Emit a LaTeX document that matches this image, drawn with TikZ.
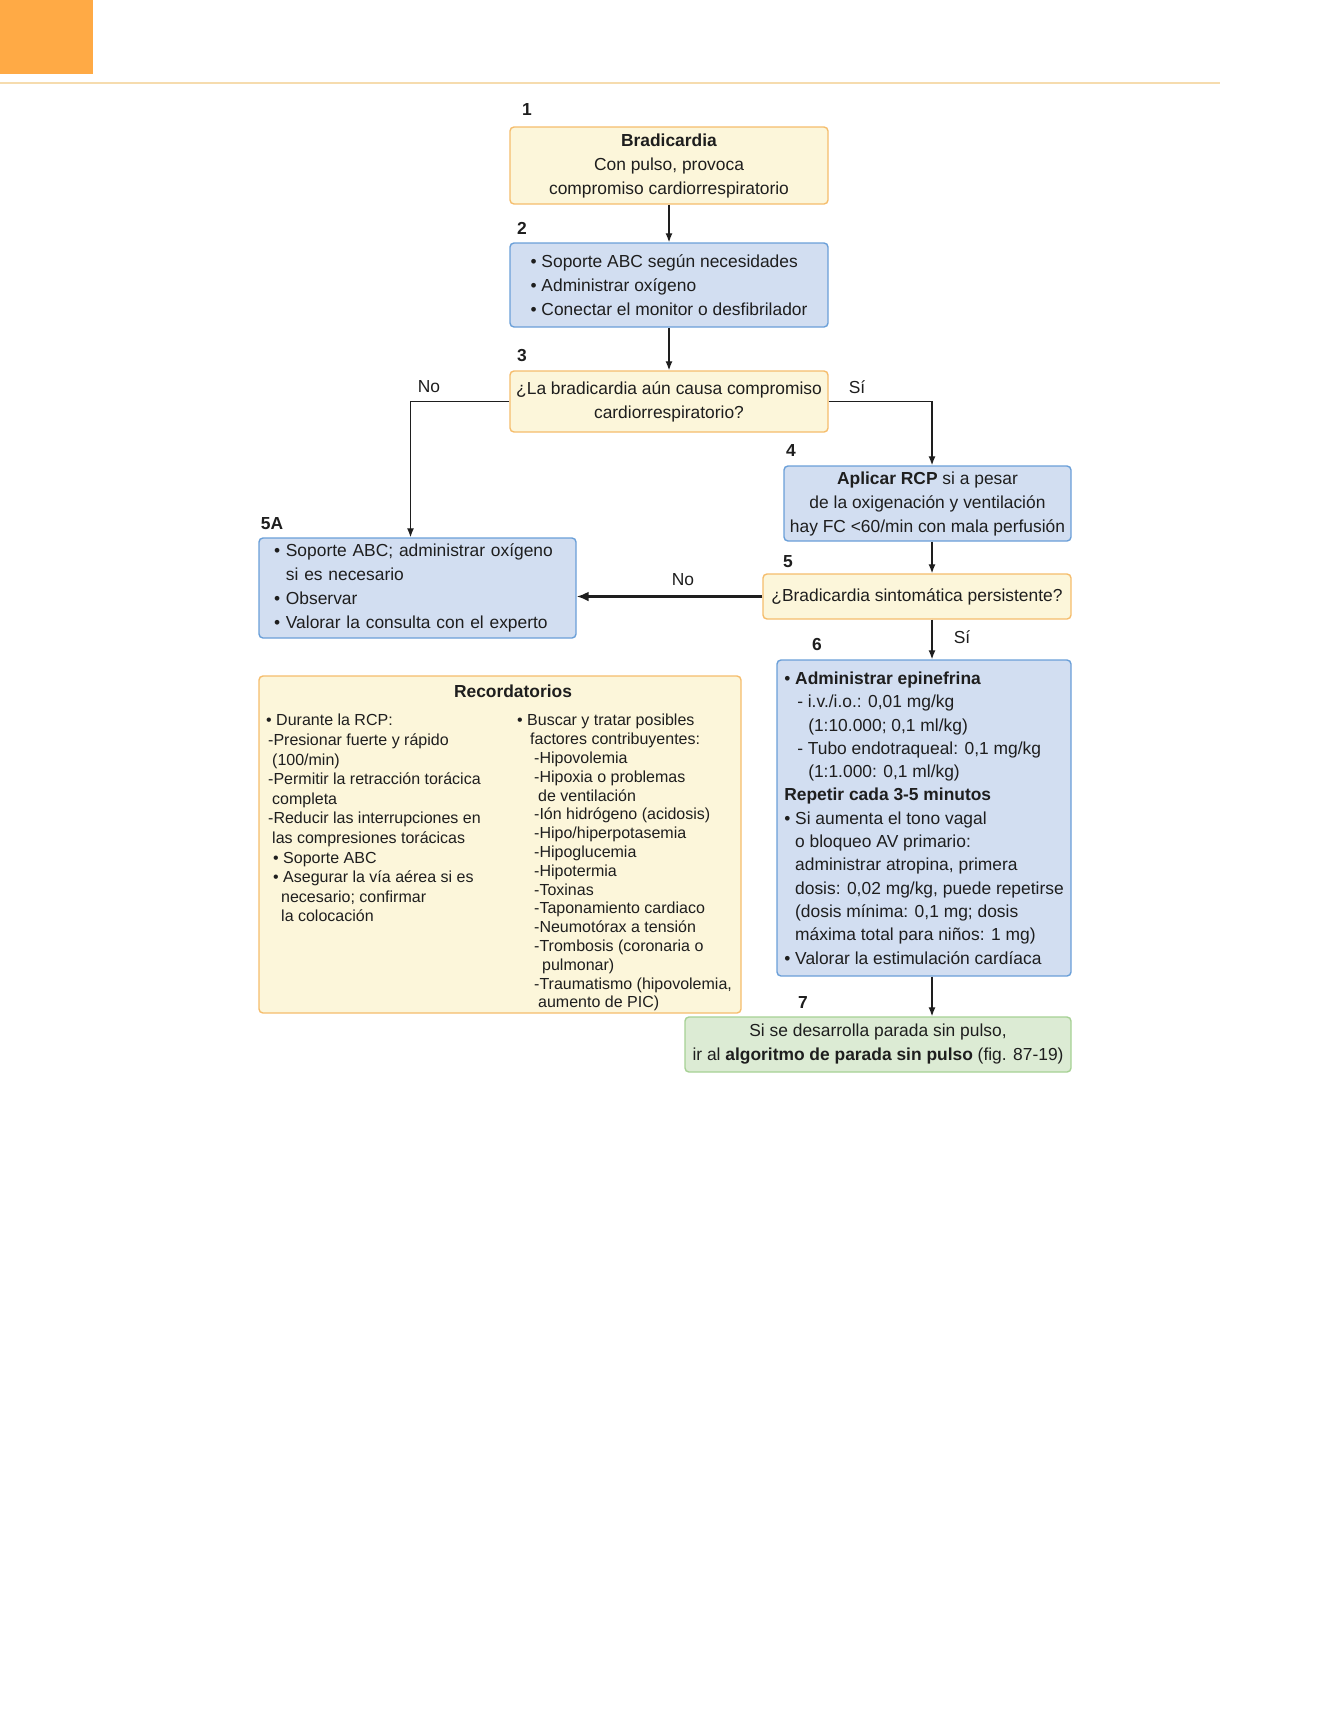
\documentclass[tikz,border=0pt]{standalone}
\usepackage{fontspec}
\setmainfont{Liberation Sans}
\usepackage{tikz}
\usetikzlibrary{arrows.meta,positioning}
\definecolor{TabOrange} {HTML}{FFAA45}
\definecolor{RuleTan}   {HTML}{F6DCAE}
\definecolor{CreamBG}   {HTML}{FCF6DA}
\definecolor{CreamEdge} {HTML}{F5BD6C}
\definecolor{BlueBG}    {HTML}{D2DEF1}
\definecolor{BlueEdge}  {HTML}{6A9FD8}
\definecolor{GreenBG}   {HTML}{DCEBD4}
\definecolor{GreenEdge} {HTML}{A6D194}
\definecolor{InkText}   {HTML}{1E1E1E}
\newcommand\flowfont{\fontsize{17.4}{24}\selectfont}
\newcommand\dosefont{\fontsize{17.4}{23.3}\selectfont}
\newcommand\noteleftfont{\fontsize{16}{19.6}\selectfont}
\newcommand\noterightfont{\fontsize{16}{18.8}\selectfont}
\newcommand\bulletgap{\hphantom{\textbullet\ }}
\tikzset{
  flowbox/.style={rounded corners=4pt,line width=1.4pt,inner sep=0pt,font=\flowfont,text=InkText},
  yellowbox/.style={flowbox,draw=CreamEdge,fill=CreamBG,align=center},
  bluebox/.style={flowbox,draw=BlueEdge,fill=BlueBG,align=left},
  greenbox/.style={flowbox,draw=GreenEdge,fill=GreenBG,align=center},
  stepno/.style={font=\flowfont\bfseries,text=InkText},
  branch/.style={font=\flowfont,text=InkText},
  arr/.style={-{Latex[length=9pt,width=7pt]},line width=1.3pt,draw=InkText},
  bigarr/.style={-{Latex[length=12pt,width=10pt]},line width=2.6pt,draw=InkText},
}

\begin{document}
\begin{tikzpicture}[x=1pt,y=-1pt]
  \useasboundingbox (0,0) rectangle (1338,1711);
  % page header
  \fill[TabOrange] (0,0) rectangle (93,74);
  \draw[RuleTan,line width=2.5pt] (0,83) -- (1220,83);

  % flow boxes
  \node[yellowbox,minimum width=318pt,minimum height=77pt] (b1) at (669,165.5) {%
    \textbf{Bradicardia}\\Con pulso, provoca\\compromiso cardiorrespiratorio};
  \node[bluebox,minimum width=318pt,minimum height=84pt] (s2) at (669,285) {%
    \textbullet\ Soporte ABC según necesidades\\
    \textbullet\ Administrar oxígeno\\
    \textbullet\ Conectar el monitor o desfibrilador};
  \node[yellowbox,minimum width=318pt,minimum height=61pt] (q3) at (669,401.5) {%
    ¿La bradicardia aún causa compromiso\\cardiorrespiratorio?};
  \node[bluebox,align=center,minimum width=287pt,minimum height=75pt] (s4) at (927.5,503.5) {%
    \textbf{Aplicar RCP} si a pesar\\de la oxigenación y ventilación\\hay FC <60/min con mala perfusión};
  \node[yellowbox,minimum width=308pt,minimum height=45pt] (q5) at (917,596.5) {%
    ¿Bradicardia sintomática persistente?};
  \node[bluebox,text width=287pt,inner xsep=15pt,minimum height=100pt] (a5A) at (417.5,588) {%
    \textbullet\ Soporte ABC; administrar oxígeno\\
    \bulletgap si es necesario\\
    \textbullet\ Observar\\
    \textbullet\ Valorar la consulta con el experto};
  \node[bluebox,font=\dosefont,minimum width=294pt,minimum height=316pt] (s6) at (924,818) {%
    \textbullet\ \textbf{Administrar epinefrina}\\
    \hspace*{13pt}- i.v./i.o.: 0,01 mg/kg\\
    \hspace*{24pt}(1:10.000; 0,1 ml/kg)\\
    \hspace*{13pt}- Tubo endotraqueal: 0,1 mg/kg\\
    \hspace*{24pt}(1:1.000: 0,1 ml/kg)\\
    \textbf{Repetir cada 3-5 minutos}\\
    \textbullet\ Si aumenta el tono vagal\\
    \bulletgap o bloqueo AV primario:\\
    \bulletgap administrar atropina, primera\\
    \bulletgap dosis: 0,02 mg/kg, puede repetirse\\
    \bulletgap (dosis mínima: 0,1 mg; dosis\\
    \bulletgap máxima total para niños: 1 mg)\\
    \textbullet\ Valorar la estimulación cardíaca};
  \node[greenbox,minimum width=386pt,minimum height=55pt] (s7) at (878,1044.5) {%
    Si se desarrolla parada sin pulso,\\
    ir al \textbf{algoritmo de parada sin pulso} (fig. 87-19)};

  % reminders panel
  \node[yellowbox,minimum width=482pt,minimum height=337pt] (rec) at (500,844.5) {};
  \node[font=\flowfont\bfseries,text=InkText] (rectitle) at (513,691) {Recordatorios};
  \node[font=\noteleftfont,text=InkText,align=left,inner sep=0pt,anchor=north west] (recleft) at (266,714) {%
    \textbullet\ Durante la RCP:\\
    \hspace*{2pt}-Presionar fuerte y rápido\\
    \hspace*{6pt}(100/min)\\
    \hspace*{2pt}-Permitir la retracción torácica\\
    \hspace*{6pt}completa\\
    \hspace*{2pt}-Reducir las interrupciones en\\
    \hspace*{6pt}las compresiones torácicas\\
    \hspace*{7pt}\textbullet\ Soporte ABC\\
    \hspace*{7pt}\textbullet\ Asegurar la vía aérea si es\\
    \hspace*{15pt}necesario; confirmar\\
    \hspace*{15pt}la colocación};
  \node[font=\noterightfont,text=InkText,align=left,inner sep=0pt,anchor=north west] (recright) at (517,714) {%
    \textbullet\ Buscar y tratar posibles\\
    \hspace*{13pt}factores contribuyentes:\\
    \hspace*{17pt}-Hipovolemia\\
    \hspace*{17pt}-Hipoxia o problemas\\
    \hspace*{21pt}de ventilación\\
    \hspace*{17pt}-Ión hidrógeno (acidosis)\\
    \hspace*{17pt}-Hipo/hiperpotasemia\\
    \hspace*{17pt}-Hipoglucemia\\
    \hspace*{17pt}-Hipotermia\\
    \hspace*{17pt}-Toxinas\\
    \hspace*{17pt}-Taponamiento cardiaco\\
    \hspace*{17pt}-Neumotórax a tensión\\
    \hspace*{17pt}-Trombosis (coronaria o\\
    \hspace*{25pt}pulmonar)\\
    \hspace*{17pt}-Traumatismo (hipovolemia,\\
    \hspace*{21pt}aumento de PIC)};

  % step numbers
  \node[stepno] (n1) at (527,110) {1};
  \node[stepno] (n2) at (522,228) {2};
  \node[stepno] (n3) at (522,356) {3};
  \node[stepno] (n4) at (791,451) {4};
  \node[stepno] (n5) at (788,562) {5};
  \node[stepno] (n5A) at (272,524) {5A};
  \node[stepno] (n6) at (817,645) {6};
  \node[stepno] (n7) at (803,1003) {7};

  % branch labels
  \node[branch] (no1) at (429,387) {No};
  \node[branch] (si1) at (857,387) {Sí};
  \node[branch] (no2) at (683,580) {No};
  \node[branch] (si2) at (962,637) {Sí};

  % connectors
  \coordinate (rail) at (932,0);
  \draw[arr] (b1.south) -- (s2.north);
  \draw[arr] (s2.south) -- (q3.north);
  \draw[arr] (q3.west) -| ([xshift=-7pt]a5A.north);
  \draw[arr] (q3.east) -| (rail |- s4.north);
  \draw[arr] (rail |- s4.south) -- (rail |- q5.north);
  \draw[bigarr] (q5.west) -- (q5.west -| a5A.east);
  \draw[arr] (rail |- q5.south) -- (rail |- s6.north);
  \draw[arr] (rail |- s6.south) -- (rail |- s7.north);
\end{tikzpicture}
\end{document}
